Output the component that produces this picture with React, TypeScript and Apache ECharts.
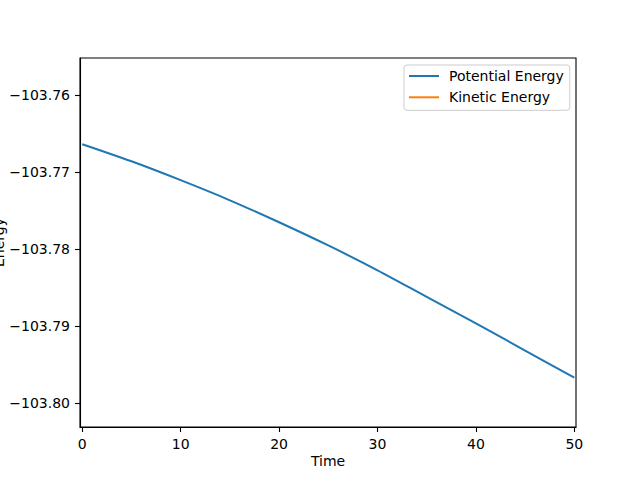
import React, { useEffect, useRef } from "react";
import * as echarts from "echarts";

const timeValues = [0, 5, 10, 15, 20, 25, 30, 35, 40, 45, 50];
const potentialEnergy = [
  -103.76638, -103.7686, -103.77105, -103.77366, -103.77651, -103.77952,
  -103.78274, -103.78619, -103.78962, -103.79315, -103.79667,
];
const kineticEnergy: number[] = [];
const xTicks = [0, 10, 20, 30, 40, 50];
const yTicks = [-103.8, -103.79, -103.78, -103.77, -103.76];

const FONT = "DejaVu Sans";
const fmtY = (v: number) => v.toFixed(2).replace("-", "\u2212");

export default function App() {
  const ref = useRef<HTMLDivElement>(null);
  useEffect(() => {
    document.body.style.margin = "0";
    if (!ref.current) return;
    const chart = echarts.init(ref.current, undefined, { renderer: "svg" });
    chart.setOption({
      animation: false,
      backgroundColor: "#ffffff",
      textStyle: { fontFamily: FONT },
      grid: {
        left: 80,
        right: 64,
        top: 58,
        bottom: 53,
        show: true,
        borderColor: "#000000",
        borderWidth: 1.1,
        containLabel: false,
        outerBoundsMode: "none",
      },
      legend: {
        left: 404,
        top: 65,
        orient: "vertical",
        icon: "rect",
        itemWidth: 30,
        itemHeight: 2,
        itemGap: 7.3,
        padding: [4, 6, 6, 5],
        backgroundColor: "#ffffff",
        borderColor: "#cccccc",
        borderWidth: 1,
        borderRadius: 3,
        textStyle: {
          fontFamily: FONT,
          fontSize: 14,
          color: "#000000",
          lineHeight: 14,
          padding: [0, 0, 0, 5],
        },
        data: ["Potential Energy", "Kinetic Energy"],
      },
      xAxis: {
        type: "value",
        min: -0.23,
        max: 50.17,
        name: "Time",
        nameLocation: "middle",
        nameGap: 27,
        nameMoveOverlap: false,
        nameTextStyle: { fontFamily: FONT, fontSize: 14, color: "#000000" },
        splitLine: { show: false },
        axisLine: { show: true, onZero: false, lineStyle: { color: "#000000", width: 1.1 } },
        axisTick: {
          show: true,
          inside: false,
          length: 5,
          lineStyle: { color: "#000000", width: 1.1 },
          customValues: xTicks,
        },
        axisLabel: {
          fontFamily: FONT,
          fontSize: 14,
          color: "#000000",
          margin: 10,
          customValues: xTicks,
          formatter: (v: number) => String(v),
        },
      },
      yAxis: {
        type: "value",
        min: -103.80307,
        max: -103.7552,
        name: "Energy",
        nameLocation: "middle",
        nameGap: 74,
        nameMoveOverlap: false,
        nameTextStyle: { fontFamily: FONT, fontSize: 14, color: "#000000" },
        splitLine: { show: false },
        axisLine: { show: true, onZero: false, lineStyle: { color: "#000000", width: 1.1 } },
        axisTick: {
          show: true,
          inside: false,
          length: 5,
          lineStyle: { color: "#000000", width: 1.1 },
          customValues: yTicks,
        },
        axisLabel: {
          fontFamily: FONT,
          fontSize: 14,
          color: "#000000",
          margin: 10,
          customValues: yTicks,
          formatter: (v: number) => fmtY(v),
        },
      },
      series: [
        {
          name: "Potential Energy",
          type: "line",
          data: timeValues.map((t, i) => [t, potentialEnergy[i]]),
          showSymbol: false,
          symbol: "none",
          smooth: 0.3,
          color: "#1f77b4",
          lineStyle: { color: "#1f77b4", width: 2 },
        },
        {
          name: "Kinetic Energy",
          type: "line",
          data: kineticEnergy,
          showSymbol: false,
          symbol: "none",
          color: "#ff7f0e",
          lineStyle: { color: "#ff7f0e", width: 2 },
        },
      ],
    });
    return () => chart.dispose();
  }, []);
  return <div ref={ref} style={{ width: 640, height: 480 }} />;
}
